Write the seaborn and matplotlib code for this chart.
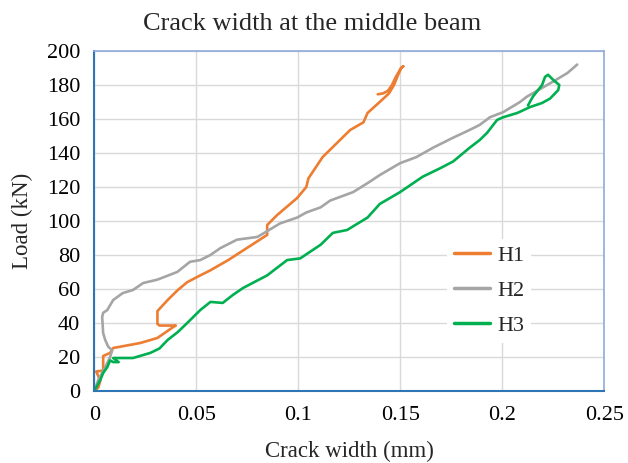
import matplotlib
matplotlib.use("Agg")
import matplotlib.pyplot as plt
import seaborn as sns
import pandas as pd
from matplotlib.ticker import FuncFormatter

# Data
h1_x = [0, 0.002, 0.003, 0.001, 0.0044, 0.0044, 0.0078, 0.0093, 0.0225, 0.031, 0.0387, 0.040, 0.032,
        0.031, 0.031, 0.036, 0.041, 0.0456, 0.052, 0.057, 0.0657, 0.0848, 0.0848, 0.0897, 0.0995,
        0.104, 0.105, 0.112, 0.1255, 0.132, 0.134, 0.140, 0.1445, 0.147, 0.149, 0.1505, 0.1515,
        0.1505, 0.148, 0.146, 0.144, 0.1415, 0.139]
h1_y = [0, 2, 6, 11.5, 12, 20.6, 22.4, 25.3, 28.2, 31.2, 37.6, 38.5, 38.5,
        39.5, 47, 53.5, 59.4, 64, 68, 71, 77, 91.8, 97.6, 103.5, 113.5,
        120, 125, 137.6, 153.5, 158, 163.5, 170, 175, 180, 186, 190, 191,
        190, 185, 180, 176.5, 175, 174.5]

h2_x = [0, 0.002, 0.0054, 0.0078, 0.0088, 0.0069, 0.0054, 0.0044, 0.0039, 0.0044, 0.0064, 0.0093,
        0.014, 0.019, 0.024, 0.031, 0.0407, 0.047, 0.052, 0.057, 0.0618, 0.070, 0.080, 0.0848,
        0.091, 0.0995, 0.104, 0.111, 0.1157, 0.127, 0.135, 0.140, 0.150, 0.158, 0.166, 0.176,
        0.184, 0.189, 0.194, 0.2005, 0.2088, 0.212, 0.225, 0.232, 0.2368]
h2_y = [0, 6.5, 14, 20, 24, 26, 30, 34, 43.5, 46, 47.6, 53.5,
        57.6, 59.4, 63.5, 65.5, 70, 76, 77, 80, 84, 89, 90.6, 94,
        98.5, 102, 105, 108, 112, 117, 123, 127, 134, 137.6, 143, 149,
        153.5, 156.5, 161, 164, 170, 173, 182, 187, 192]

h3_x = [0, 0.003, 0.0044, 0.0064, 0.0078, 0.0093, 0.012, 0.0093, 0.019, 0.0275, 0.032, 0.036,
        0.041, 0.0456, 0.052, 0.057, 0.063, 0.068, 0.073, 0.0848, 0.0946, 0.101, 0.111, 0.117,
        0.124, 0.134, 0.140, 0.150, 0.161, 0.1696, 0.176, 0.184, 0.189, 0.1926, 0.1975, 0.2005,
        0.2074, 0.2137, 0.2196, 0.2235, 0.2275, 0.228, 0.225, 0.2225, 0.221, 0.2196, 0.215, 0.2127]
h3_y = [0, 6.5, 10.6, 14, 18, 17, 17, 19.4, 19.4, 22.4, 25, 30,
        34.7, 40, 47.6, 52.4, 51.8, 56.5, 60.6, 68, 77, 78, 86, 93,
        94.7, 102, 110, 117, 126, 131, 135, 143, 147.6, 151.8, 159.4, 161,
        163.5, 167, 169.4, 172, 177, 180, 183, 186, 184.7, 180, 173, 168]

series_names = ["H1", "H2", "H3"]
series_colors = ["#ED7D31", "#A5A5A5", "#00B050"]
x_ticks = [0, 0.05, 0.1, 0.15, 0.2, 0.25]
y_ticks = list(range(0, 201, 20))

frames = []
for name, xs, ys in zip(series_names, [h1_x, h2_x, h3_x], [h1_y, h2_y, h3_y]):
    frames.append(pd.DataFrame({"x": xs, "y": ys, "series": name, "order": range(len(xs))}))
df = pd.concat(frames, ignore_index=True)

sns.set_theme(style="white")
plt.rcParams["font.family"] = ["Liberation Serif", "DejaVu Serif"]

fig = plt.figure(figsize=(6.28, 4.63), dpi=100)
ax = fig.add_axes([0.150, 0.1555, 0.812, 0.7345])

sns.lineplot(data=df, x="x", y="y", hue="series", sort=False, estimator=None,
             units="series", palette=dict(zip(series_names, series_colors)),
             linewidth=1.9, ax=ax, legend=True)

ax.set_xlim(0, 0.25)
ax.set_ylim(0, 200)
ax.set_xticks(x_ticks)
ax.set_yticks(y_ticks)
ax.xaxis.set_major_formatter(FuncFormatter(lambda v, p: f"{v:g}"))
ax.grid(True, color="#D9D9D9", linewidth=1.0)
ax.set_axisbelow(True)

for side in ["left", "bottom"]:
    ax.spines[side].set_color("#2E75B6")
    ax.spines[side].set_linewidth(1.5)
for side in ["top", "right"]:
    ax.spines[side].set_color("#8FAADC")
    ax.spines[side].set_linewidth(1.2)
ax.tick_params(axis="both", direction="in", length=5, width=1.2, color="#2E75B6",
               labelsize=16, labelcolor="black")
ax.tick_params(axis="y", pad=10)
ax.tick_params(axis="x", pad=11)

ax.set_xlabel("Crack width (mm)", fontsize=16.5, labelpad=11)
ax.set_ylabel("Load (kN)", fontsize=16.5, labelpad=10)
fig.text(0.497, 0.948, "Crack width at the middle beam", fontsize=19,
         ha="center", va="center")

leg = ax.legend(loc="upper left", bbox_to_anchor=(0.67, 0.48), fontsize=16,
                handlelength=1.65, labelspacing=0.65, frameon=True, fancybox=False,
                borderpad=0.3, handletextpad=0.3)
leg.get_frame().set_facecolor("white")
leg.get_frame().set_edgecolor("none")
leg.get_frame().set_alpha(1.0)
for line in leg.get_lines():
    line.set_linewidth(2.5)

fig.savefig("out.png", dpi=100)
